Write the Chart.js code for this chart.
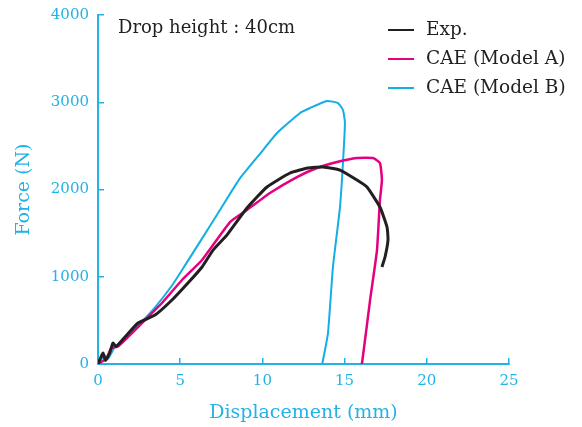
<!DOCTYPE html>
<html>
<head>
    <script src="https://cdn.jsdelivr.net/npm/chart.js@4.4.0/dist/chart.umd.min.js"></script>
    <style>
        html, body { margin: 0; padding: 0; background: #ffffff; }
        #wrap { width: 582px; height: 427px; }
    </style>
</head>
<body>
    <div id="wrap"><canvas id="forceChart" width="582" height="427"></canvas></div>

    <script>
        // Displacement (mm) / Force (N)
        var expX = [0, 0.3, 0.45, 0.7, 0.91, 1.1, 1.6, 2.43, 3.47, 4.5, 5.47, 6.33, 7.0, 7.85, 9.06, 10.28, 11.68, 12.77, 13.69, 14.72, 15.75, 16.36, 17.15, 17.58, 17.64, 17.46, 17.27];
        var expY = [0, 126, 40, 120, 241, 200, 300, 470, 561, 733, 928, 1112, 1306, 1480, 1788, 2029, 2189, 2246, 2258, 2223, 2109, 2029, 1799, 1570, 1421, 1226, 1112];

        var modelAX = [0, 0.5, 0.8, 1.2, 1.82, 2.86, 3.89, 5.11, 6.33, 8.03, 9.06, 10.46, 12.1, 13.32, 14.54, 15.75, 16.73, 17.15, 17.27, 17.15, 16.97, 16.55, 16.06, 16.0];
        var modelAY = [0, 60, 180, 200, 309, 504, 699, 963, 1192, 1627, 1765, 1960, 2143, 2246, 2315, 2361, 2361, 2304, 2109, 1880, 1306, 733, 11, 0];

        var modelBX = [0, 0.4, 0.6, 1.03, 1.5, 2.43, 3.47, 4.5, 5.29, 6.2, 7.42, 8.64, 10.04, 10.89, 12.29, 12.9, 13.93, 14.6, 14.9, 15.02, 14.9, 14.72, 14.29, 13.99, 13.69, 13.63];
        var modelBY = [0, 100, 60, 195, 270, 440, 650, 900, 1130, 1400, 1765, 2130, 2452, 2647, 2877, 2934, 3014, 2991, 2911, 2762, 2304, 1799, 1112, 355, 46, 0];

        var xTicks = [0, 5, 10, 15, 20, 25];
        var yTicks = [0, 1000, 2000, 3000, 4000];
        var seriesNames = ['Exp.', 'CAE (Model A)', 'CAE (Model B)'];

        var cyan = '#22b2e6';
        var serif = "'DejaVu Serif', 'Liberation Serif', serif";

        function pairs(xs, ys) {
            var out = [];
            for (var i = 0; i < xs.length; i++) out.push({x: xs[i], y: ys[i]});
            return out;
        }

        // note and legend drawn by hand at fixed spots
        var annotate = {
            id: 'annotate',
            afterDraw: function(chart) {
                var ctx = chart.ctx;
                ctx.save();
                ctx.fillStyle = '#231f20';
                ctx.font = '18px ' + serif;
                ctx.textBaseline = 'middle';
                ctx.textAlign = 'left';
                ctx.fillText('Drop height : 40cm', 118, 28);

                ctx.font = '18.5px ' + serif;
                chart.data.datasets.forEach(function(ds, i) {
                    var y = 30 + i * 29;
                    ctx.strokeStyle = ds.borderColor;
                    ctx.lineWidth = 2;
                    ctx.beginPath();
                    ctx.moveTo(388, y);
                    ctx.lineTo(414, y);
                    ctx.stroke();
                    ctx.fillText(ds.label, 426, y);
                });
                ctx.restore();
            }
        };

        var ctx = document.getElementById('forceChart').getContext('2d');
        var chart = new Chart(ctx, {
            type: 'scatter',
            data: {
                datasets: [{
                    label: seriesNames[0],
                    data: pairs(expX, expY),
                    borderColor: '#231f20',
                    borderWidth: 3,
                }, {
                    label: seriesNames[1],
                    data: pairs(modelAX, modelAY),
                    borderColor: '#e4007f',
                    borderWidth: 2.5,
                }, {
                    label: seriesNames[2],
                    data: pairs(modelBX, modelBY),
                    borderColor: '#13aee4',
                    borderWidth: 2,
                }]
            },
            options: {
                responsive: false,
                animation: false,
                showLine: true,
                elements: {
                    point: { radius: 0, hoverRadius: 0 },
                    line: { tension: 0.15, fill: false }
                },
                layout: { padding: { top: 15, right: 73, left: 0, bottom: 0 } },
                plugins: {
                    legend: { display: false },
                    tooltip: { enabled: false }
                },
                scales: {
                    x: {
                        type: 'linear',
                        min: 0,
                        max: 25,
                        afterBuildTicks: function(scale) {
                            scale.ticks = xTicks.map(function(v) { return {value: v}; });
                        },
                        afterFit: function(scale) {
                            scale.height = 63;
                            scale.paddingLeft = 0;
                            scale.paddingRight = 0;
                        },
                        border: { color: cyan, width: 2 },
                        grid: { drawOnChartArea: false, drawTicks: true, tickLength: -6, color: cyan, lineWidth: 1.5 },
                        ticks: {
                            color: cyan, padding: 14, maxRotation: 0,
                            font: { family: serif, size: 15 },
                            callback: function(v) { return String(v); }
                        },
                        title: {
                            display: true,
                            text: 'Displacement (mm)',
                            color: cyan,
                            font: { family: serif, size: 19 },
                            padding: { top: 0, bottom: 3 }
                        }
                    },
                    y: {
                        type: 'linear',
                        min: 0,
                        max: 4000,
                        afterBuildTicks: function(scale) {
                            scale.ticks = yTicks.map(function(v) { return {value: v}; });
                        },
                        afterFit: function(scale) {
                            scale.width = 98;
                            scale.paddingTop = 0;
                            scale.paddingBottom = 0;
                        },
                        border: { color: cyan, width: 2 },
                        grid: { drawOnChartArea: false, drawTicks: true, tickLength: -6, color: cyan, lineWidth: 1.5 },
                        ticks: {
                            color: cyan, padding: 15,
                            font: { family: serif, size: 15 },
                            callback: function(v) { return String(v); }
                        },
                        title: {
                            display: true,
                            text: 'Force (N)',
                            color: cyan,
                            font: { family: serif, size: 19 },
                            padding: { top: 13, bottom: 0 }
                        }
                    }
                }
            },
            plugins: [annotate]
        });
    </script>
</body>
</html>
